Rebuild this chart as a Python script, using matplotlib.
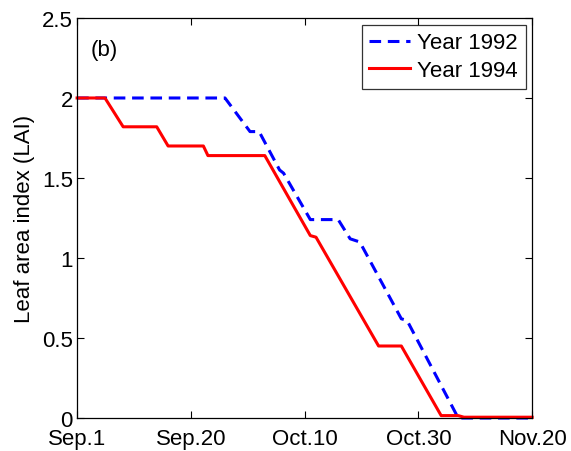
import matplotlib.pyplot as plt

plt.rcParams['font.family'] = ['Liberation Sans', 'DejaVu Sans']

# days after Sep.1
days_1992 = [0, 26, 30.4, 32, 35.6, 36.3, 41, 45.9, 48.0, 49.7, 57.0, 58.0, 67.0, 80]
lai_1992 = [2.0, 2.0, 1.79, 1.79, 1.55, 1.53, 1.24, 1.24, 1.12, 1.10, 0.62, 0.61, 0.0, 0.0]

days_1994 = [0, 4.9, 8.1, 14, 16, 22.2, 23, 33, 41, 42, 53, 57, 64, 67, 68, 80]
lai_1994 = [2.0, 2.0, 1.82, 1.82, 1.70, 1.70, 1.64, 1.64, 1.14, 1.13, 0.45, 0.45, 0.015, 0.015, 0.005, 0.005]

xtick_pos = [0, 20, 40, 60, 80]
xtick_labels = ['Sep.1', 'Sep.20', 'Oct.10', 'Oct.30', 'Nov.20']
ytick_pos = [0, 0.5, 1, 1.5, 2, 2.5]
ytick_labels = ['0', '0.5', '1', '1.5', '2', '2.5']

fig = plt.figure(figsize=(5.71, 4.52), dpi=100)
ax = fig.add_axes([0.135, 0.073, 0.797, 0.885])

ax.plot(days_1992, lai_1992, color='blue', lw=2.2, dashes=(3.8, 2.2),
        label='Year 1992', clip_on=False)
ax.plot(days_1994, lai_1994, color='red', lw=2.2, label='Year 1994', clip_on=False)

ax.set_xlim(0, 80)
ax.set_ylim(0, 2.5)
ax.set_xticks(xtick_pos)
ax.set_xticklabels(xtick_labels)
ax.set_yticks(ytick_pos)
ax.set_yticklabels(ytick_labels)
ax.tick_params(direction='in', length=5, width=0.8, top=True, right=True,
               labelsize=16, pad=3)
ax.tick_params(axis='x', pad=7)
for s in ax.spines.values():
    s.set_linewidth(0.9)

ax.set_ylabel('Leaf area index (LAI)', fontsize=16, labelpad=5)
ax.text(0.03, 0.92, '(b)', transform=ax.transAxes, fontsize=16, va='center')

leg = ax.legend(loc='upper right', fontsize=16, frameon=True, fancybox=False,
                handlelength=1.85, handletextpad=0.3, borderpad=0.35,
                labelspacing=0.3, borderaxespad=0.3)
leg.get_frame().set_edgecolor('black')
leg.get_frame().set_linewidth(0.9)

fig.savefig('out.png', dpi=100)
